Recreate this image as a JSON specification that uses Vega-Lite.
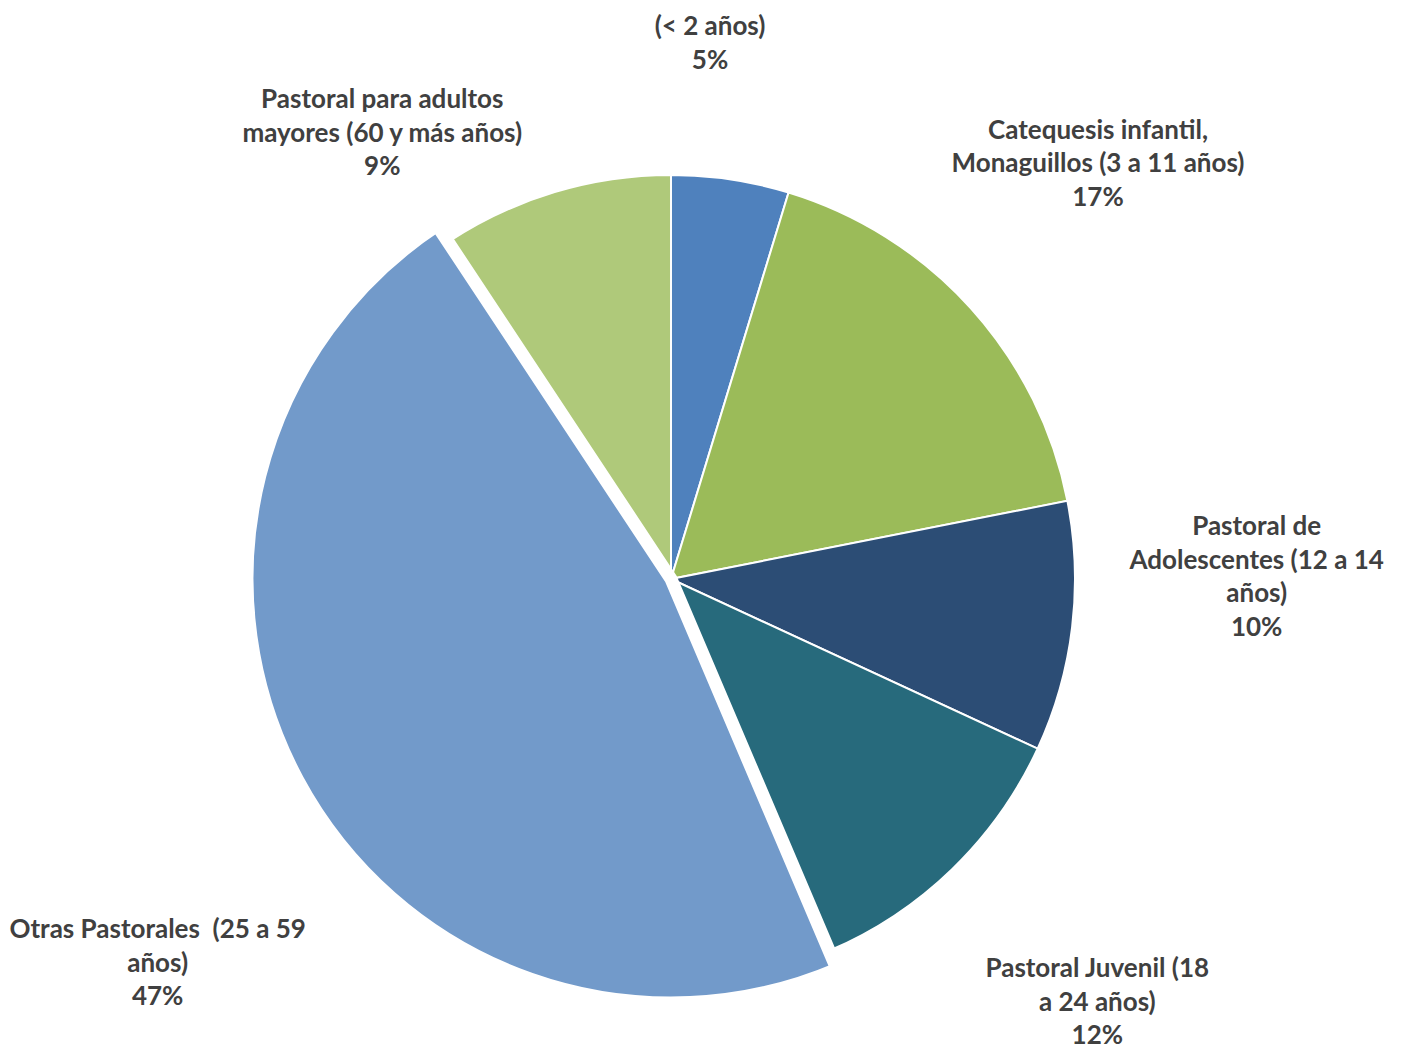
{
  "$schema": "https://vega.github.io/schema/vega-lite/v6.json",
  "width": 1342,
  "height": 938,
  "autosize": {"type": "none"},
  "padding": {"left": 0, "top": 110, "right": 61, "bottom": 0},
  "background": "white",
  "config": {
    "view": {"stroke": null},
    "text": {"font": "Lato", "fontWeight": "bold", "fontSize": 26, "lineHeight": 33.5, "lineBreak": "\n", "align": "center", "baseline": "middle"}
  },
  "data": {
    "values": [
      {"order": 1, "category": "(< 2 años)", "value": 4.7, "label": "(< 2 años)\n5%"},
      {"order": 2, "category": "Catequesis infantil, Monaguillos (3 a 11 años)", "value": 17.2, "label": "Catequesis infantil,\nMonaguillos (3 a 11 años)\n17%"},
      {"order": 3, "category": "Pastoral de Adolescentes (12 a 14 años)", "value": 10.0, "label": "Pastoral de\nAdolescentes (12 a 14\naños)\n10%"},
      {"order": 4, "category": "Pastoral Juvenil (18 a 24 años)", "value": 11.7, "label": "Pastoral Juvenil (18\na 24 años)\n12%"},
      {"order": 5, "category": "Otras Pastorales (25 a 59 años)", "value": 47.1, "label": "Otras Pastorales \u00a0(25 a 59\naños)\n47%"},
      {"order": 6, "category": "Pastoral para adultos mayores (60 y más años)", "value": 9.3, "label": "Pastoral para adultos\nmayores (60 y más años)\n9%"}
    ]
  },
  "encoding": {
    "theta": {"field": "value", "type": "quantitative", "stack": true},
    "order": {"field": "order", "type": "quantitative"},
    "color": {
      "field": "category",
      "type": "nominal",
      "scale": {
        "domain": ["(< 2 años)", "Catequesis infantil, Monaguillos (3 a 11 años)", "Pastoral de Adolescentes (12 a 14 años)", "Pastoral Juvenil (18 a 24 años)", "Otras Pastorales (25 a 59 años)", "Pastoral para adultos mayores (60 y más años)"],
        "range": ["#4F81BD", "#9BBB59", "#2C4D75", "#276A7C", "#729ACA", "#AFC97A"]
      },
      "legend": null
    }
  },
  "layer": [
    {"mark": {"type": "arc", "outerRadius": 404, "stroke": "white", "strokeWidth": 2}},
    {
      "mark": {"type": "arc", "outerRadius": 424, "stroke": "white", "strokeWidth": 13},
      "encoding": {"opacity": {"condition": {"test": "datum.order === 5", "value": 1}, "value": 0}}
    },
    {
      "mark": {"type": "text", "radius": 553, "thetaOffset": -0.0771},
      "encoding": {"color": {"value": "#404040"}, "text": {"condition": {"test": "datum.order === 1", "field": "label"}, "value": ""}}
    },
    {
      "mark": {"type": "text", "radius": 619, "thetaOffset": -0.0744},
      "encoding": {"color": {"value": "#404040"}, "text": {"condition": {"test": "datum.order === 2", "field": "label"}, "value": ""}}
    },
    {
      "mark": {"type": "text", "radius": 588, "thetaOffset": -0.2079},
      "encoding": {"color": {"value": "#404040"}, "text": {"condition": {"test": "datum.order === 3", "field": "label"}, "value": ""}}
    },
    {
      "mark": {"type": "text", "radius": 578, "thetaOffset": -0.0597},
      "encoding": {"color": {"value": "#404040"}, "text": {"condition": {"test": "datum.order === 4", "field": "label"}, "value": ""}}
    },
    {
      "mark": {"type": "text", "radius": 622, "thetaOffset": -0.1068},
      "encoding": {"color": {"value": "#404040"}, "text": {"condition": {"test": "datum.order === 5", "field": "label"}, "value": ""}}
    },
    {
      "mark": {"type": "text", "radius": 559, "thetaOffset": -0.2506},
      "encoding": {"color": {"value": "#404040"}, "text": {"condition": {"test": "datum.order === 6", "field": "label"}, "value": ""}}
    }
  ]
}
